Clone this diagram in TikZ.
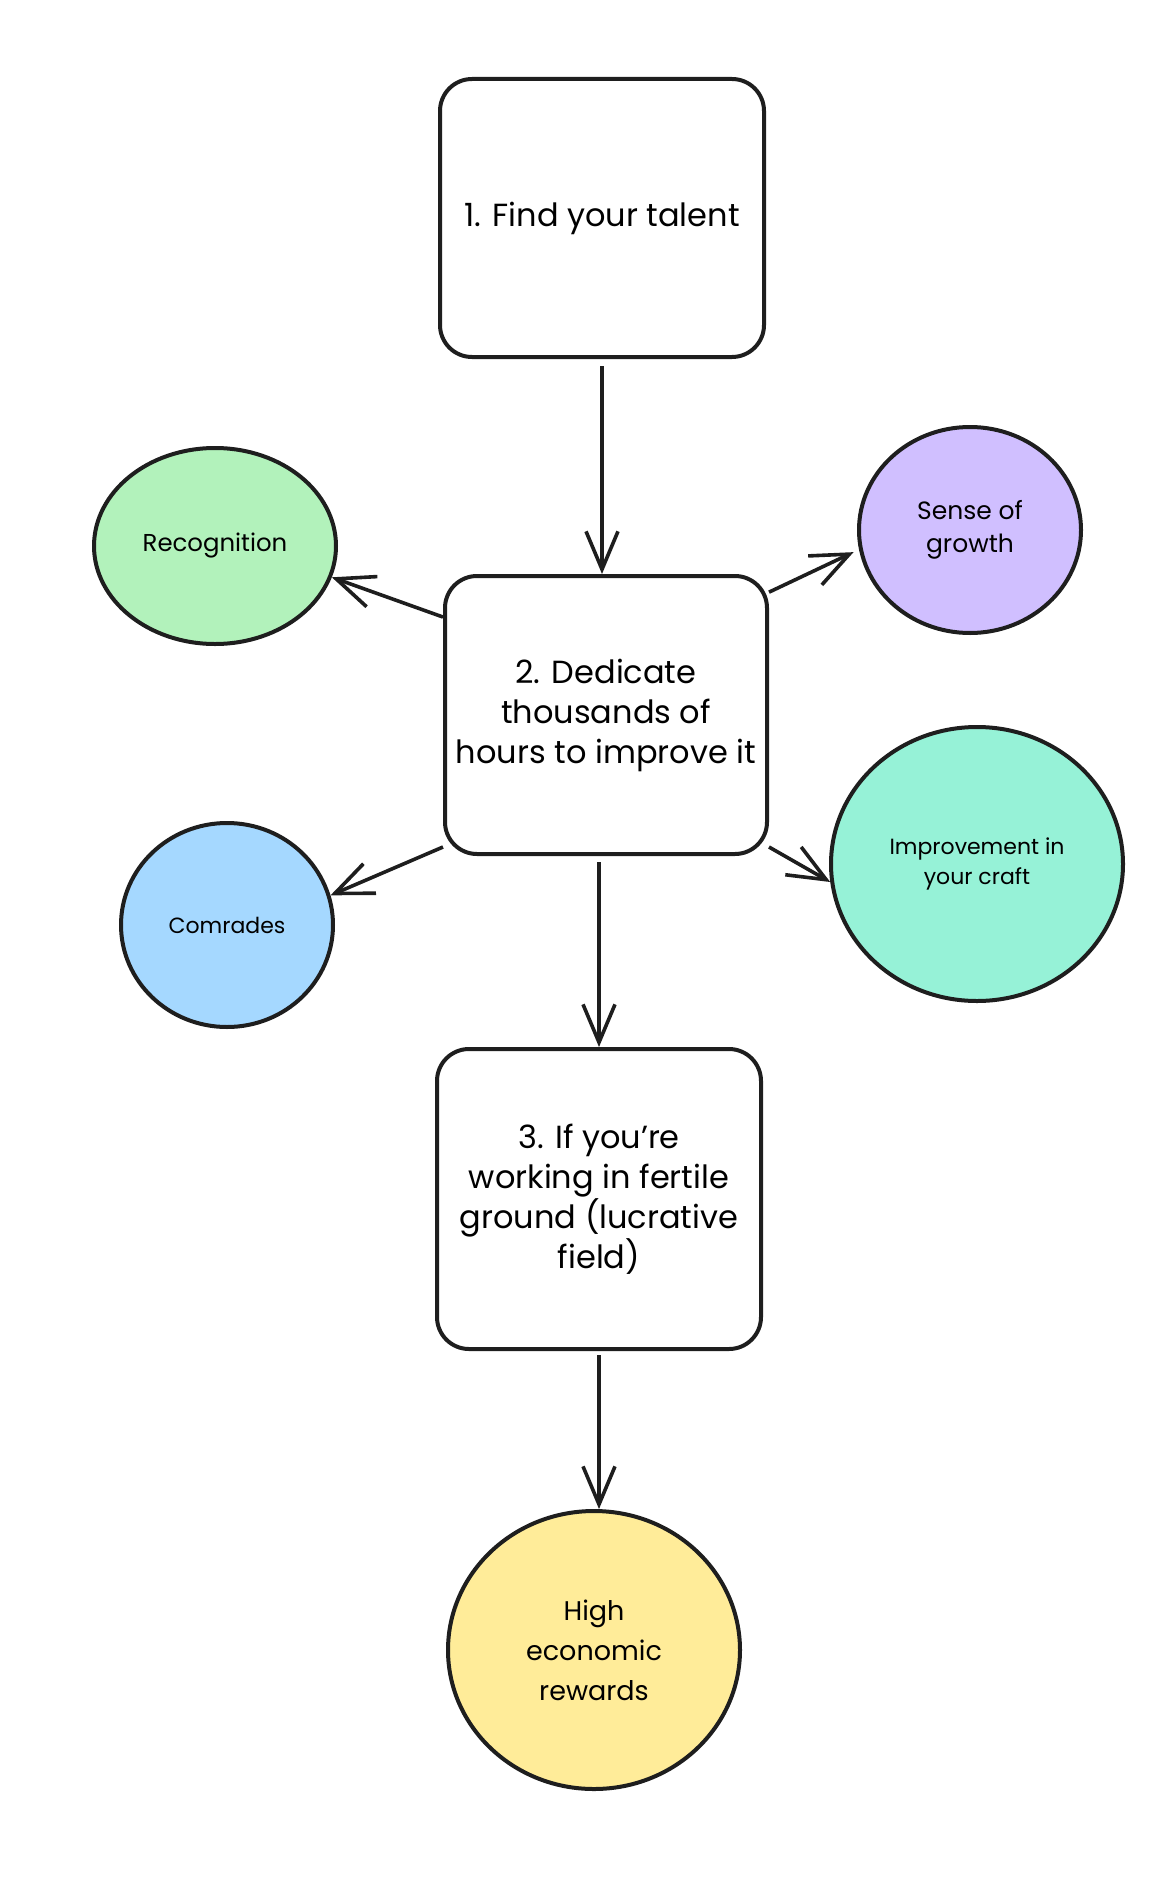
\documentclass[tikz,border=0pt]{standalone}
\usepackage{fontspec}
\setmainfont{Poppins}
\usetikzlibrary{shapes.geometric,arrows.meta}

\tikzset{
  stepbox/.style={draw=ink, line width=2pt, rounded corners=16pt, fill=white,
    align=center, font=\fontsize{16}{20}\selectfont},
  gain/.style={ellipse, draw=ink, line width=2pt, align=center, inner sep=0pt,
    font=\fontsize{11}{15}\selectfont},
  conn/.style={draw=ink, line width=1.8pt, -{Straight Barb[length=19pt, width=16pt]}}
}

\begin{document}
\begin{tikzpicture}[x=0.5pt, y=-0.5pt]

  \definecolor{ink}{RGB}{30, 30, 30}
  \definecolor{recogfill}{HTML}{B2F2BB}
  \definecolor{growthfill}{HTML}{D0BFFF}
  \definecolor{comradefill}{HTML}{A5D8FF}
  \definecolor{craftfill}{HTML}{96F2D7}
  \definecolor{rewardfill}{HTML}{FFEC99}

  \useasboundingbox (0, 0) rectangle (1172, 1894);

  % Steps (white boxes)
  \node[stepbox, minimum width=162pt, minimum height=139pt] (find) at (602, 218)
    {1. Find your talent};
  \node[stepbox, minimum width=161pt, minimum height=139pt] (dedicate) at (606, 715)
    {2. Dedicate\\thousands of\\hours to improve it};
  \node[stepbox, minimum width=162pt, minimum height=150pt] (fertile) at (599, 1199)
    {3. If you're\\working in fertile\\ground (lucrative\\field)};

  % What you get (coloured ellipses)
  \node[gain, fill=recogfill, minimum width=121pt, minimum height=98pt,
    font=\fontsize{12.2}{15}\selectfont] (recog) at (215, 546)
    {Recognition};
  \node[gain, fill=growthfill, minimum width=111pt, minimum height=103pt,
    font=\fontsize{12.5}{16.5}\selectfont] (growth) at (970, 530)
    {Sense of\\growth};
  \node[gain, fill=comradefill, minimum width=106pt, minimum height=102pt] (comrades) at (227, 925)
    {Comrades};
  \node[gain, fill=craftfill, minimum width=146pt, minimum height=137pt] (craft) at (977, 864)
    {Improvement in\\your craft};
  \node[gain, fill=rewardfill, minimum width=146pt, minimum height=139pt,
    font=\fontsize{13.5}{20}\selectfont] (rewards) at (594, 1650)
    {High\\economic\\rewards};

  % Arrows
  \draw[conn, shorten <=3.5pt] (find.south) -- (find.south |- dedicate.north);
  \draw[conn, shorten <=3pt] (dedicate.south -| fertile.north) -- (fertile.north);
  \draw[conn, shorten <=2pt] (fertile.south) -- (fertile.south |- rewards.north);
  \draw[conn] (dedicate.149) -- (recog.-15);
  \draw[conn, shorten >=3pt] (dedicate.37) -- (growth.190);
  \draw[conn] (dedicate.219) -- (comrades.16);
  \draw[conn] (dedicate.-39) -- (craft.187);

\end{tikzpicture}
\end{document}
